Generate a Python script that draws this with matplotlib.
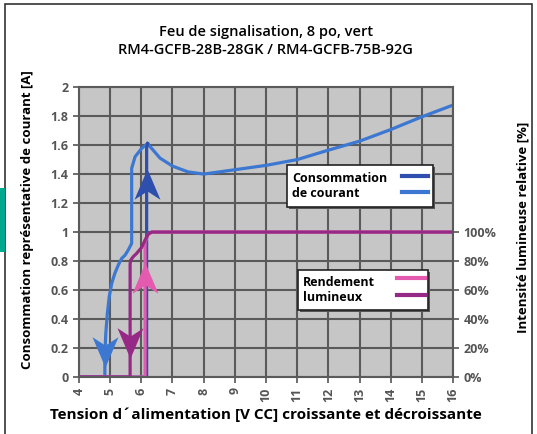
import matplotlib
matplotlib.use('Agg')
import matplotlib.pyplot as plt
from matplotlib.path import Path
from matplotlib.patches import Rectangle

plt.rcParams['font.family'] = ['Open Sans', 'DejaVu Sans']

# courbe commune (courant), tension croissante puis au-delà du pic
courant_x = [6.2, 6.6, 7.0, 7.5, 8.0, 9.0, 10.0, 11.0, 12.0, 13.0, 14.0, 15.0, 16.0]
courant_y = [1.61, 1.51, 1.455, 1.415, 1.40, 1.43, 1.46, 1.50, 1.565, 1.627, 1.707, 1.795, 1.876]

# courant, tension décroissante
desc_courant_x = [6.2, 6.01, 5.8, 5.69, 5.69, 5.58, 5.48, 5.37, 5.26, 5.15, 5.05, 4.97, 4.91, 4.86, 4.83, 4.83, 4.0]
desc_courant_y = [1.61, 1.577, 1.52, 1.44, 0.922, 0.876, 0.841, 0.818, 0.772, 0.715, 0.646, 0.554, 0.439, 0.301, 0.15, 0.0, 0.0]

# courant, tension croissante
mont_courant_x = [4.0, 6.17, 6.17, 6.2]
mont_courant_y = [0.0, 0.0, 1.58, 1.61]

# rendement lumineux, tension croissante
mont_lum_x = [4.0, 6.12, 6.12, 6.22, 6.35, 16.0]
mont_lum_y = [0.0, 0.0, 0.93, 0.985, 1.0, 1.0]

# rendement lumineux, tension décroissante
desc_lum_x = [16.0, 6.33, 6.22, 6.12, 6.01, 5.85, 5.74, 5.66, 5.64, 5.64, 4.0]
desc_lum_y = [1.0, 1.0, 0.986, 0.945, 0.894, 0.853, 0.83, 0.807, 0.78, 0.0, 0.0]

# flèches : x, y, sens
fleche_x = [4.83, 5.64, 6.12, 6.17]
fleche_y = [0.17, 0.235, 0.686, 1.33]
fleche_sens = ['bas', 'bas', 'haut', 'haut']

x_ticks = list(range(4, 17))
y_ticks = [0, 0.2, 0.4, 0.6, 0.8, 1, 1.2, 1.4, 1.6, 1.8, 2]
y_labels = ['0', '0.2', '0.4', '0.6', '0.8', '1', '1.2', '1.4', '1.6', '1.8', '2']
pct_ticks = [0, 0.2, 0.4, 0.6, 0.8, 1.0]
pct_labels = ['0%', '20%', '40%', '60%', '80%', '100%']

bleu_clair = '#3c78d2'
bleu_fonce = '#2e4fae'
rose = '#e35aae'
violet = '#962886'
fleche_couleur = [bleu_clair, violet, rose, bleu_fonce]
gris_grille = '#5a5a5a'
gris_texte = '#555555'

fig = plt.figure(figsize=(5.37, 4.34), dpi=100)
ax = fig.add_axes([0.1471, 0.1313, 0.6965, 0.668])
ax.set_facecolor('#c6c6c6')
ax.set_xlim(4, 16)
ax.set_ylim(0, 2)
ax.set_xticks(x_ticks)
ax.set_xticklabels([str(t) for t in x_ticks], rotation=90)
ax.set_yticks(y_ticks)
ax.set_yticklabels(y_labels)
ax.grid(True, color=gris_grille, linewidth=1.5)
ax.set_axisbelow(True)
for s in ax.spines.values():
    s.set_color(gris_grille)
    s.set_linewidth(1.5)
ax.tick_params(colors=gris_texte, labelsize=9, length=4, width=1.2)
for lab in ax.get_xticklabels() + ax.get_yticklabels():
    lab.set_fontweight('bold')

# marqueurs en forme de flèche
fleche_haut = Path([(0, 1), (0.85, -1), (0, -0.45), (-0.85, -1), (0, 1)],
                   [Path.MOVETO, Path.LINETO, Path.LINETO, Path.LINETO, Path.CLOSEPOLY])
fleche_bas = Path([(0, -1), (0.85, 1), (0, 0.45), (-0.85, 1), (0, -1)],
                  [Path.MOVETO, Path.LINETO, Path.LINETO, Path.LINETO, Path.CLOSEPOLY])

lw = 2.3
ax.plot(courant_x, courant_y, color=bleu_clair, lw=lw, solid_joinstyle='round')
ax.plot(desc_courant_x, desc_courant_y, color=bleu_clair, lw=lw, solid_joinstyle='round')
ax.plot(mont_courant_x, mont_courant_y, color=bleu_fonce, lw=lw)
ax.plot(mont_lum_x, mont_lum_y, color=rose, lw=lw)
ax.plot(desc_lum_x, desc_lum_y, color=violet, lw=lw)

for fx, fy, sens, c in zip(fleche_x, fleche_y, fleche_sens, fleche_couleur):
    m = fleche_haut if sens == 'haut' else fleche_bas
    ax.plot([fx], [fy], marker=m, markersize=22, color=c, markeredgewidth=0)

# axe de droite (pourcentage)
ax2 = ax.twinx()
ax2.set_ylim(0, 2)
ax2.set_yticks(pct_ticks)
ax2.set_yticklabels(pct_labels)
ax2.tick_params(colors=gris_texte, labelsize=9, length=4, width=1.2)
for lab in ax2.get_yticklabels():
    lab.set_fontweight('bold')
for s in ax2.spines.values():
    s.set_visible(False)

# légendes dessinées à la main (texte à gauche, traits à droite)
def legende(box, texte, tx, ty, seg_x, seg_y, couleurs):
    x0, y0, x1, y1 = box
    ax2.add_patch(Rectangle((x0 + 0.006, y0 - 0.008), x1 - x0, y1 - y0, transform=ax2.transAxes,
                            facecolor='#555555', edgecolor='none', zorder=5, clip_on=False))
    ax2.add_patch(Rectangle((x0, y0), x1 - x0, y1 - y0, transform=ax2.transAxes,
                            facecolor='white', edgecolor='#222222', lw=1.2, zorder=6, clip_on=False))
    ax2.text(tx, ty, texte, transform=ax2.transAxes, ha='left', va='center', fontsize=9,
             fontweight='bold', linespacing=1.2, zorder=7)
    for yy, c in zip(seg_y, couleurs):
        ax2.plot(seg_x, [yy, yy], transform=ax2.transAxes, color=c, lw=3, zorder=7)

legende((0.555, 0.587, 0.946, 0.731), 'Consommation\nde courant', 0.570, 0.659,
        [0.864, 0.933], [0.693, 0.638], [bleu_fonce, bleu_clair])
legende((0.586, 0.231, 0.933, 0.369), 'Rendement\nlumineux', 0.599, 0.300,
        [0.850, 0.925], [0.341, 0.283], [rose, violet])

fig.text(0.495, 0.906, 'Feu de signalisation, 8 po, vert\nRM4-GCFB-28B-28GK / RM4-GCFB-75B-92G',
         ha='center', va='center', fontsize=10.5, fontweight='semibold', linespacing=1.35)
fig.text(0.052, 0.495, 'Consommation représentative de courant [A]', rotation=90,
         ha='center', va='center', fontsize=9.5, fontweight='bold')
fig.text(0.973, 0.476, 'Intensité lumineuse relative [%]', rotation=90,
         ha='center', va='center', fontsize=9.5, fontweight='bold')
fig.text(0.495, 0.045, 'Tension d´alimentation [V CC] croissante et décroissante',
         ha='center', va='center', fontsize=11, fontweight='bold')

# cadre et repère vert
fig.add_artist(Rectangle((0.0093, -0.05), 0.9814, 1.0408, transform=fig.transFigure,
                         fill=False, edgecolor='#333333', linewidth=1.2))
fig.add_artist(Rectangle((0, 0.419), 0.0093, 0.147, transform=fig.transFigure,
                         facecolor='#00a88f', edgecolor='none'))

fig.savefig('out.png', dpi=100)
